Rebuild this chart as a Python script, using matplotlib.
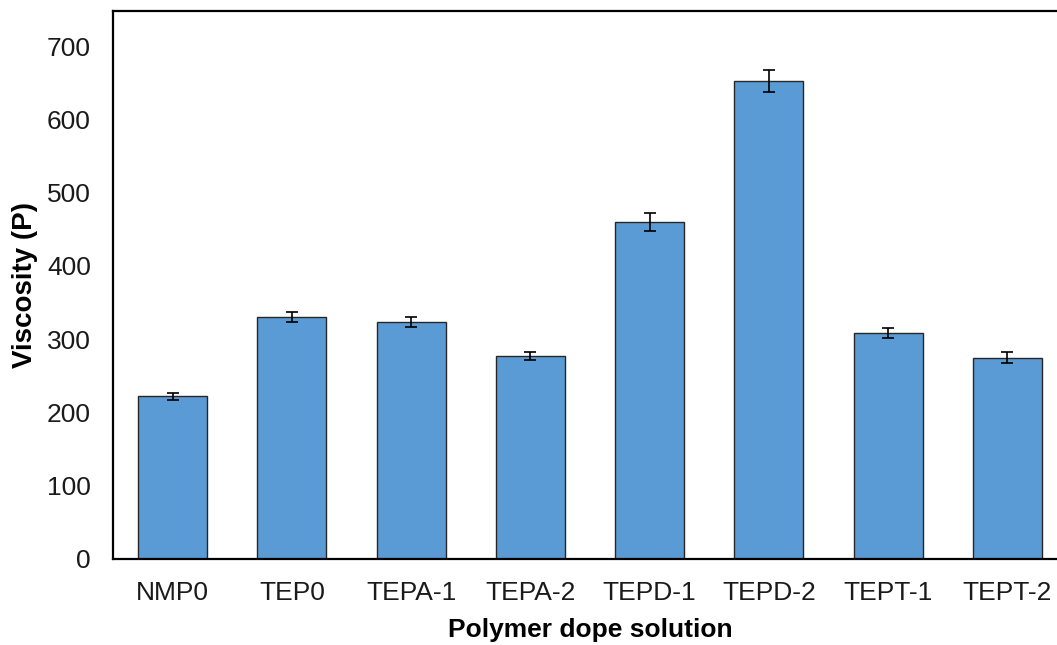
import matplotlib
matplotlib.use('Agg')
import matplotlib.pyplot as plt

# данные с графика
samples = ['NMP0', 'TEP0', 'TEPA-1', 'TEPA-2', 'TEPD-1', 'TEPD-2', 'TEPT-1', 'TEPT-2']
viscosity = [222, 330, 323, 277, 460, 652, 308, 275]
viscosity_err = [5, 7, 7, 6, 12, 15, 7, 8]

BAR_COLOR = '#5B9BD5'

plt.rcParams['font.family'] = ['Liberation Sans', 'DejaVu Sans']

fig = plt.figure(figsize=(10.57, 6.45), dpi=100)
ax = fig.add_axes([113 / 1057, 86 / 645, 954 / 1057, 548 / 645])

x = list(range(len(samples)))
ax.bar(x, viscosity, width=0.58, color=BAR_COLOR, edgecolor='#262626', linewidth=1.0,
       yerr=viscosity_err, capsize=4.6,
       error_kw={'elinewidth': 1.2, 'capthick': 1.2, 'ecolor': 'black'})

ax.set_xlim(-0.5, 7.5)
ax.set_ylim(0, 748)
ax.set_yticks(range(0, 701, 100))
ax.set_xticks(x)
ax.set_xticklabels(samples)
ax.tick_params(axis='both', length=0, labelsize=19, colors='#1a1a1a')
ax.tick_params(axis='x', pad=16)
ax.tick_params(axis='y', pad=16)

for side in ax.spines.values():
    side.set_linewidth(1.6)
    side.set_color('black')

ax.set_xlabel('Polymer dope solution', fontsize=19, fontweight='bold', labelpad=9)
ax.set_ylabel('Viscosity (P)', fontsize=20, fontweight='bold', labelpad=6)

fig.savefig('out.png', dpi=100)
